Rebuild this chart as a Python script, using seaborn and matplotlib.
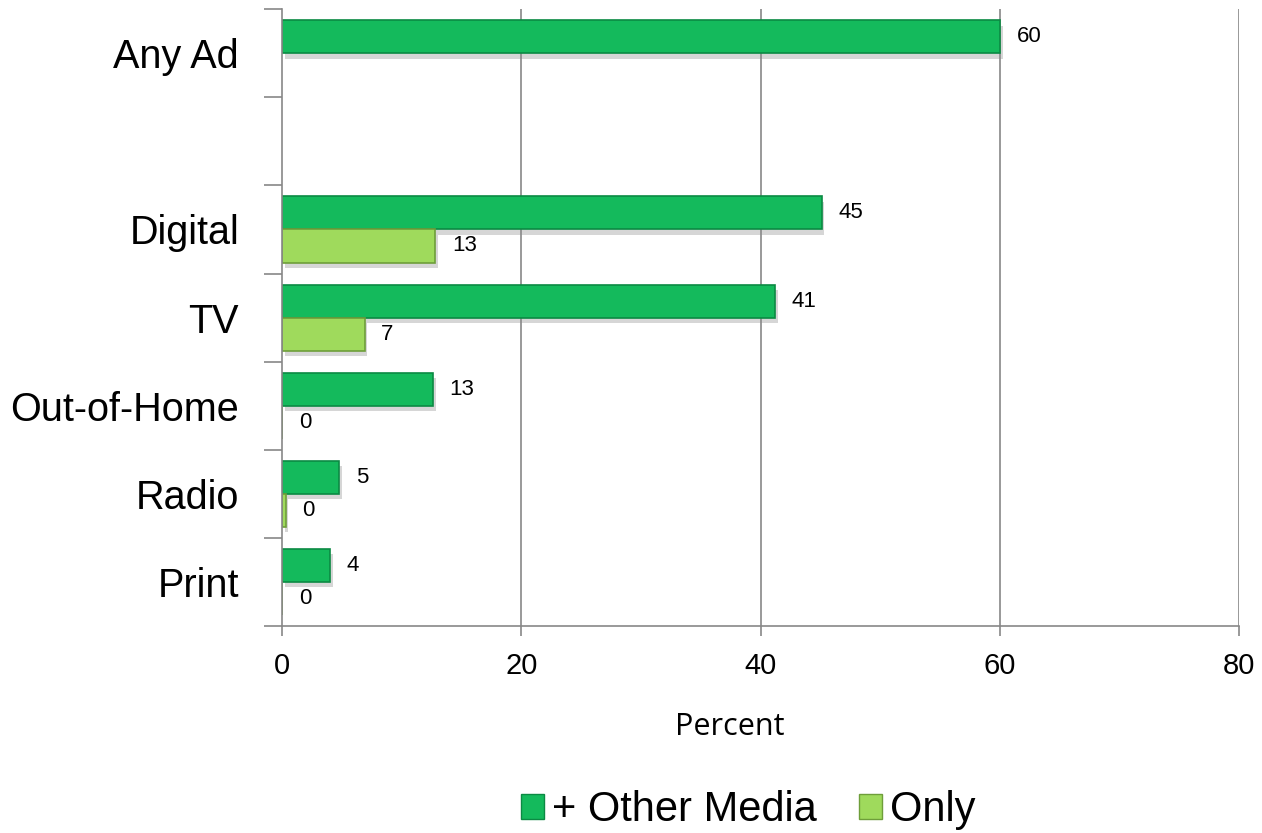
import numpy as np
import pandas as pd
import seaborn as sns
import matplotlib
matplotlib.use("Agg")
import matplotlib.pyplot as plt
import matplotlib.patheffects as pe
from matplotlib.patches import Patch
from matplotlib.ticker import FixedLocator

# Media reach, percent
categories = ["Any Ad", "", "Digital", "TV", "Out-of-Home", "Radio", "Print"]
series = ["+ Other Media", "Only"]
other_media_cats = ["Any Ad", "Digital", "TV", "Out-of-Home", "Radio", "Print"]
other_media_vals = [60.0, 45.1, 41.2, 12.6, 4.8, 4.0]
only_cats = ["Digital", "TV", "Out-of-Home", "Radio", "Print"]
only_vals = [12.8, 6.9, 0.0, 0.3, 0.0]
x_ticks = [0, 20, 40, 60, 80]

df = pd.concat([
    pd.DataFrame({"Media": other_media_cats, "Percent": other_media_vals, "Series": series[0]}),
    pd.DataFrame({"Media": only_cats, "Percent": only_vals, "Series": series[1]}),
], ignore_index=True)

face = {"+ Other Media": "#14BA5C", "Only": "#9FDA5C"}
edge = {"+ Other Media": "#0B8A43", "Only": "#6E9E3A"}

sns.set_theme(style="white")
plt.rcParams["font.family"] = ["Liberation Sans", "DejaVu Sans"]
plt.rcParams["text.color"] = "black"
plt.rcParams["axes.labelcolor"] = "black"
plt.rcParams["xtick.color"] = "black"
plt.rcParams["ytick.color"] = "black"

fig = plt.figure(figsize=(12.62, 8.33), dpi=100)
ax = fig.add_axes([0.2235, 0.2485, 0.9818 - 0.2235, 0.989 - 0.2485])

sns.barplot(data=df, x="Percent", y="Media", hue="Series", order=categories,
            hue_order=series, palette=face, saturation=1, orient="h", width=0.75,
            errorbar=None, legend=False, ax=ax)

shadow = [pe.SimplePatchShadow(offset=(2, -4), shadow_rgbFace="0.55", alpha=0.35), pe.Normal()]
for cont, name in zip(ax.containers, series):
    for bar in cont:
        bar.set_edgecolor(edge[name])
        bar.set_linewidth(1.2)
        bar.set_path_effects(shadow)
    ax.bar_label(cont, fmt="{:.0f}", padding=12, fontsize=16, color="black")

grid_c = "#878787"
ax.set_xlim(0, 80)
ax.set_ylim(len(categories) - 0.5, -0.5)
ax.xaxis.set_major_locator(FixedLocator(x_ticks))
for v in x_ticks[1:]:
    ax.axvline(v, color=grid_c, lw=1.2, zorder=0)

for s in ["top", "right"]:
    ax.spines[s].set_visible(False)
for s in ["left", "bottom"]:
    ax.spines[s].set_color(grid_c)
    ax.spines[s].set_linewidth(1.2)

# category boundaries as outward ticks, labels centred between them
ax.yaxis.set_minor_locator(FixedLocator(np.arange(-0.5, len(categories), 1.0)))
ax.tick_params(axis="y", which="minor", left=True, length=13, width=1.2, color=grid_c)
ax.tick_params(axis="y", which="major", left=True, length=0, pad=31, labelsize=28.5)
ax.tick_params(axis="x", which="major", bottom=True, length=7, width=1.2, color=grid_c,
               pad=12, labelsize=21)

ax.set_ylabel("")
ax.set_xlabel("Percent", family=["Open Sans", "DejaVu Sans"], fontsize=22, color="black")
ax.xaxis.set_label_coords(0.468, -0.14)

handles = [Patch(facecolor=face[s], edgecolor=edge[s], label=s) for s in series]
fig.legend(handles=handles, loc="center", bbox_to_anchor=(0.593, 0.0276), ncol=2,
           frameon=False, fontsize=30, handlelength=0.55, handleheight=0.55,
           handletextpad=0.2, columnspacing=1.0, borderpad=0)

fig.savefig("out.png", dpi=100)
